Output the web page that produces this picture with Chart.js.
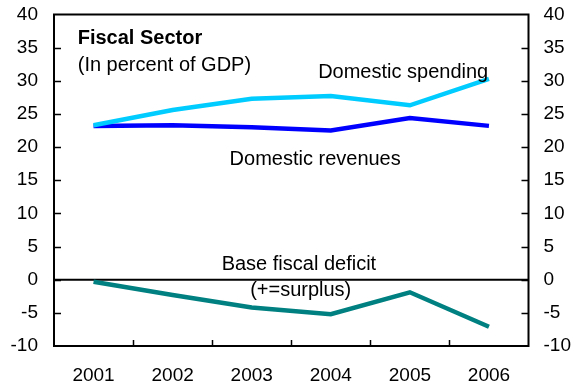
<!DOCTYPE html>
<html lang="en">
<head>
  <meta charset="UTF-8">
  <title>Fiscal Sector</title>
  <script src="https://cdn.jsdelivr.net/npm/chart.js"></script>
  <style>
    body {
      margin: 0;
      background: #ffffff;
    }
    canvas {
      display: block;
    }
  </style>
</head>
<body>
  <canvas id="grafico" width="575" height="389"></canvas>

  <script>
    const years = ['2001', '2002', '2003', '2004', '2005', '2006'];
    const spending = [23.3, 25.6, 27.3, 27.7, 26.3, 30.3];
    const revenues = [23.2, 23.3, 23.0, 22.5, 24.4, 23.2];
    const deficit = [-0.3, -2.3, -4.2, -5.2, -1.9, -7.1];
    const yTicks = [-10, -5, 0, 5, 10, 15, 20, 25, 30, 35, 40];

    const FONT = '"Liberation Sans", Arial, sans-serif';

    // text placed in chart units: x = category index, y = value
    const notes = [
      { text: 'Fiscal Sector', x: -0.2, y: 35.5, bold: true },
      { text: '(In percent of GDP)', x: -0.2, y: 31.5 },
      { text: 'Domestic spending', x: 2.84, y: 30.4 },
      { text: 'Domestic revenues', x: 1.72, y: 17.3 },
      { text: 'Base fiscal deficit', x: 1.62, y: 1.4 },
      { text: '(+=surplus)', x: 1.98, y: -2.4 }
    ];

    const framePlugin = {
      id: 'frame',
      beforeDatasetsDraw(chart) {
        const { ctx, chartArea: a, scales } = chart;
        const y0 = scales.y.getPixelForValue(0);
        ctx.save();
        ctx.strokeStyle = '#000';
        ctx.lineWidth = 2;
        ctx.beginPath();
        ctx.moveTo(a.left, y0);
        ctx.lineTo(a.right, y0);
        ctx.stroke();
        ctx.restore();
      },
      afterDatasetsDraw(chart) {
        const { ctx, chartArea: a, scales } = chart;
        const x = scales.x, y = scales.y;
        ctx.save();
        ctx.strokeStyle = '#000';
        ctx.lineWidth = 2;
        ctx.strokeRect(a.left, a.top, a.right - a.left, a.bottom - a.top);

        // inward tick marks on both value axes
        ctx.lineWidth = 1.5;
        ctx.beginPath();
        yTicks.slice(1, -1).forEach(v => {
          const py = Math.round(y.getPixelForValue(v)) + 0.5;
          ctx.moveTo(a.left, py);
          ctx.lineTo(a.left + 7, py);
          ctx.moveTo(a.right, py);
          ctx.lineTo(a.right - 7, py);
        });
        // tick marks between years
        for (let i = 0; i < years.length - 1; i++) {
          const px = Math.round((x.getPixelForValue(i) + x.getPixelForValue(i + 1)) / 2) + 0.5;
          ctx.moveTo(px, a.bottom);
          ctx.lineTo(px, a.bottom - 6);
        }
        ctx.stroke();

        ctx.fillStyle = '#000';
        ctx.textAlign = 'left';
        ctx.textBaseline = 'alphabetic';
        notes.forEach(n => {
          ctx.font = (n.bold ? 'bold ' : '') + '20px ' + FONT;
          ctx.fillText(n.text, x.getPixelForValue(n.x), y.getPixelForValue(n.y));
        });
        ctx.restore();
      }
    };

    function fixValueAxis(width) {
      return function (scale) {
        scale.width = width;
        scale.paddingTop = 0;
        scale.paddingBottom = 0;
      };
    }

    const ctx = document.getElementById('grafico').getContext('2d');
    new Chart(ctx, {
      type: 'line',
      data: {
        labels: years,
        datasets: [
          { label: 'Domestic spending', data: spending, borderColor: '#00CCFF' },
          { label: 'Domestic revenues', data: revenues, borderColor: '#0000FF' },
          { label: 'Base fiscal deficit', data: deficit, borderColor: '#008080' }
        ]
      },
      options: {
        responsive: false,
        animation: false,
        devicePixelRatio: 1,
        layout: { padding: { top: 14.5, left: 0, right: 0, bottom: 0 } },
        elements: {
          line: { borderWidth: 4.5, tension: 0, fill: false },
          point: { radius: 0 }
        },
        plugins: {
          legend: { display: false },
          tooltip: { enabled: false }
        },
        scales: {
          x: {
            type: 'category',
            offset: true,
            grid: { display: false, drawTicks: false },
            border: { display: false },
            ticks: {
              color: '#000',
              padding: 18,
              font: { family: FONT, size: 19 }
            },
            afterFit(scale) { scale.height = 43; }
          },
          y: {
            position: 'left',
            min: -10,
            max: 40,
            afterBuildTicks(scale) { scale.ticks = yTicks.map(v => ({ value: v })); },
            grid: { display: false, drawTicks: false },
            border: { display: false },
            ticks: {
              color: '#000',
              padding: 16,
              font: { family: FONT, size: 19 }
            },
            afterFit: fixValueAxis(54)
          },
          y2: {
            position: 'right',
            min: -10,
            max: 40,
            afterBuildTicks(scale) { scale.ticks = yTicks.map(v => ({ value: v })); },
            grid: { display: false, drawTicks: false },
            border: { display: false },
            ticks: {
              color: '#000',
              padding: 15,
              font: { family: FONT, size: 19 }
            },
            afterFit: fixValueAxis(46.5)
          }
        }
      },
      plugins: [framePlugin]
    });
  </script>
</body>
</html>
